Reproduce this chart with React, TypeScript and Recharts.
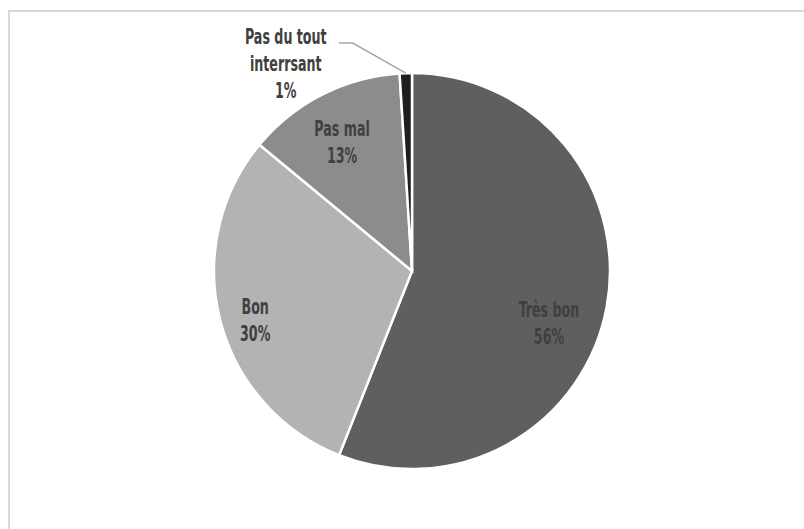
import React from 'react';
import { PieChart, Pie, Cell } from 'recharts';

const categories = ['Très bon', 'Bon', 'Pas mal', 'Pas du tout interrsant'];
const values = [56, 30, 13, 1];
const labelLines = [['Très bon'], ['Bon'], ['Pas mal'], ['Pas du tout', 'interrsant']];
const colors = ['#5f5f5f', '#b3b3b3', '#8c8c8c', '#1e1e1e'];

// label placement (style/layout): radius fraction and angular nudge, degrees
const labelLayout = [
  { r: 0.74, shift: -10, outside: false },
  { r: 0.83, shift: 3, outside: false },
  { r: 0.74, shift: 1.5, outside: false },
  { r: 1, shift: 0, outside: true },
];

const data = categories.map((name, i) => ({ name, value: values[i], lines: labelLines[i] }));

const RAD = Math.PI / 180;
const FONT = "'DejaVu Sans Condensed', 'DejaVu Sans', sans-serif";
const TEXT_COLOR = '#404040';
const LINE_H = 27;
const SX = 0.64;

function Lines({ x, y, lines }: { x: number; y: number; lines: string[] }) {
  return (
    <g>
      {lines.map((t, k) => (
        <text
          key={k}
          transform={`translate(${x},${y + k * LINE_H}) scale(${SX},1)`}
          textAnchor="middle"
          dominantBaseline="central"
          fontFamily={FONT}
          fontWeight="bold"
          fontSize={22}
          fill={TEXT_COLOR}
        >
          {t}
        </text>
      ))}
    </g>
  );
}

const renderLabel = (props: any) => {
  const { cx, cy, midAngle, outerRadius, index, percent, payload } = props;
  const lay = labelLayout[index];
  const lines: string[] = [...(payload?.lines ?? data[index].lines), `${Math.round(percent * 100)}%`];
  if (!lay.outside) {
    const a = (midAngle + lay.shift) * RAD;
    const rr = outerRadius * lay.r;
    const x = cx + rr * Math.cos(a);
    const y = cy - rr * Math.sin(a);
    const y0 = y - ((lines.length - 1) * LINE_H) / 2;
    return <Lines key={index} x={x} y={y0} lines={lines} />;
  }
  const a = midAngle * RAD;
  const sx = cx + outerRadius * Math.cos(a);
  const sy = cy - outerRadius * Math.sin(a);
  const ex = sx - 53;
  const ey = sy - 30;
  const hx = ex - 14;
  const tx = hx - 53;
  const ty = ey - 7;
  return (
    <g key={index}>
      <polyline points={`${sx},${sy} ${ex},${ey} ${hx},${ey}`} fill="none" stroke="#a6a6a6" strokeWidth={1.5} />
      <Lines x={tx} y={ty} lines={lines} />
    </g>
  );
};

export default function App() {
  return (
    <div style={{ position: 'absolute', left: 0, top: 0, width: 804, height: 529, overflow: 'hidden', background: '#fff' }}>
      <div
        style={{
          position: 'absolute',
          left: 8,
          top: 10,
          width: 900,
          height: 700,
          border: '2px solid #d9d9d9',
          boxSizing: 'border-box',
        }}
      />
      <div style={{ position: 'absolute', left: 0, top: 0 }}>
        <PieChart width={804} height={529} margin={{ top: 0, right: 0, bottom: 0, left: 0 }}>
          <Pie
            data={data}
            dataKey="value"
            nameKey="name"
            cx={412}
            cy={271}
            outerRadius={198}
            startAngle={90}
            endAngle={-270}
            stroke="#ffffff"
            strokeWidth={2.5}
            label={renderLabel}
            labelLine={false}
            isAnimationActive={false}
          >
            {data.map((d, i) => (
              <Cell key={d.name} fill={colors[i]} />
            ))}
          </Pie>
        </PieChart>
      </div>
    </div>
  );
}
